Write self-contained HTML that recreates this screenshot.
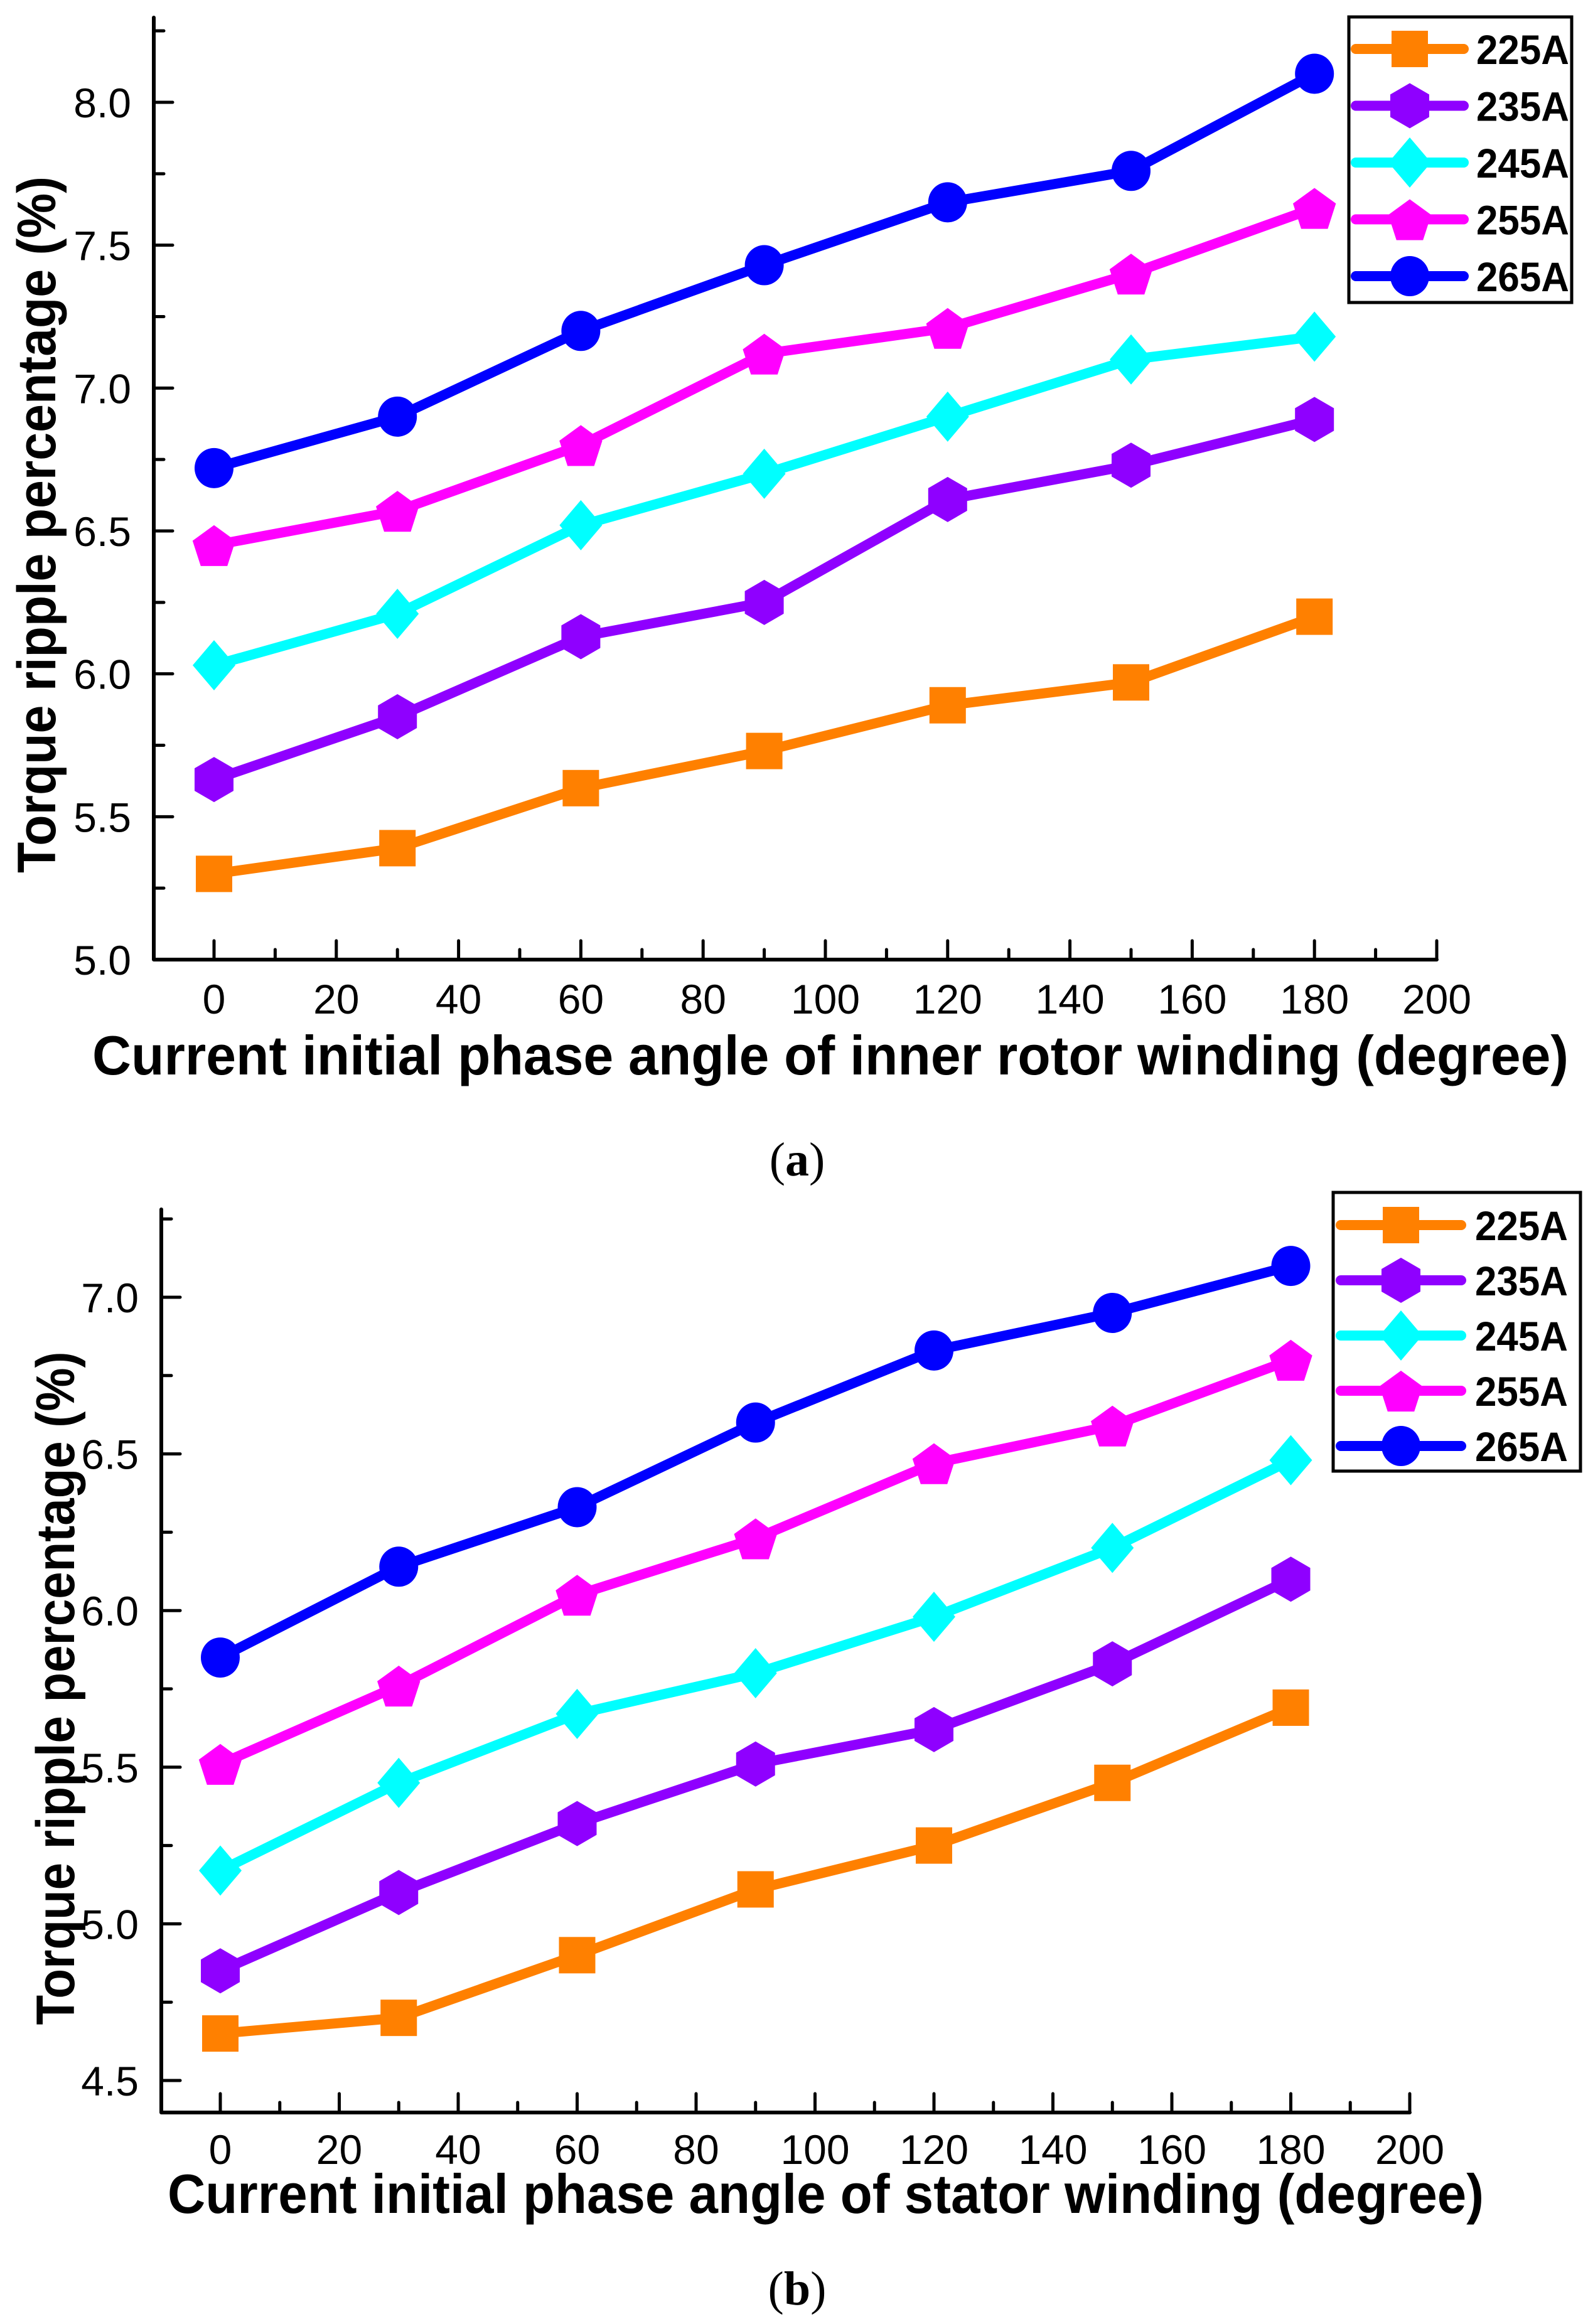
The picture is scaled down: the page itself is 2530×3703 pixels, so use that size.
<!DOCTYPE html>
<html><head><meta charset="utf-8"><style>
html,body{margin:0;padding:0;background:#fff;}
svg{display:block;}
text{font-family:"Liberation Sans",Arial,sans-serif;}
</style></head><body>
<svg id="fig" width="2530" height="3703" viewBox="0 0 2530 3703" xmlns="http://www.w3.org/2000/svg">
<rect width="2530" height="3703" fill="#fff"/>
<g id="chartA"></g>
<g id="chartB"></g>
<text x="1270" y="1873" text-anchor="middle" font-size="76" style="font-family:'Liberation Serif',serif">(<tspan font-weight="bold">a</tspan>)</text>
<text x="1270" y="3672" text-anchor="middle" font-size="76" style="font-family:'Liberation Serif',serif">(<tspan font-weight="bold">b</tspan>)</text>
</svg>
<script>
const angles = [0, 30, 60, 90, 120, 150, 180];
const seriesNames = ["225A", "235A", "245A", "255A", "265A"];
const xTicks = [0, 20, 40, 60, 80, 100, 120, 140, 160, 180, 200];
const yTicksA = [5.0, 5.5, 6.0, 6.5, 7.0, 7.5, 8.0];
const yTicksB = [4.5, 5.0, 5.5, 6.0, 6.5, 7.0];
const a225 = [5.30, 5.39, 5.60, 5.73, 5.89, 5.97, 6.20];
const a235 = [5.63, 5.85, 6.13, 6.25, 6.61, 6.73, 6.89];
const a245 = [6.03, 6.21, 6.52, 6.70, 6.90, 7.10, 7.18];
const a255 = [6.45, 6.57, 6.80, 7.12, 7.21, 7.40, 7.63];
const a265 = [6.72, 6.90, 7.20, 7.43, 7.65, 7.76, 8.10];
const b225 = [4.65, 4.70, 4.90, 5.11, 5.25, 5.45, 5.69];
const b235 = [4.85, 5.10, 5.32, 5.51, 5.62, 5.83, 6.10];
const b245 = [5.17, 5.45, 5.67, 5.80, 5.98, 6.20, 6.48];
const b255 = [5.51, 5.76, 6.05, 6.23, 6.47, 6.59, 6.80];
const b265 = [5.85, 6.14, 6.33, 6.60, 6.83, 6.95, 7.10];

const NS = "http://www.w3.org/2000/svg";
const colors = ["#FF8000", "#8F00FF", "#00FFFF", "#FF00FF", "#0000FF"];
const shapes = ["square", "hexagon", "diamond", "pentagon", "circle"];

function mk(parent, tag, attrs) {
  const e = document.createElementNS(NS, tag);
  for (const k in attrs) e.setAttribute(k, attrs[k]);
  parent.appendChild(e);
  return e;
}

function marker(g, shape, cx, cy, color) {
  let e;
  if (shape === "square") {
    e = mk(g, "rect", {x: cx - 29, y: cy - 29, width: 58, height: 58, fill: color});
  } else if (shape === "circle") {
    e = mk(g, "ellipse", {cx: cx, cy: cy, rx: 31, ry: 32, fill: color});
  } else if (shape === "diamond") {
    e = mk(g, "polygon", {points: `${cx},${cy-40} ${cx+34},${cy} ${cx},${cy+40} ${cx-34},${cy}`, fill: color});
  } else if (shape === "hexagon") {
    e = mk(g, "polygon", {points: `${cx},${cy-36} ${cx+31},${cy-18} ${cx+31},${cy+18} ${cx},${cy+36} ${cx-31},${cy+18} ${cx-31},${cy-18}`, fill: color});
  } else {
    let pts = [];
    for (let i = 0; i < 5; i++) {
      const ang = -Math.PI / 2 + i * 2 * Math.PI / 5;
      pts.push((cx + 36 * Math.cos(ang)).toFixed(1) + "," + (cy + 4 + 36 * Math.sin(ang)).toFixed(1));
    }
    e = mk(g, "polygon", {points: pts.join(" "), fill: color});
  }
  return e;
}

function drawChart(cfg) {
  const g = document.getElementById(cfg.id);
  const X = v => cfg.x0 + (v - 0) * (cfg.x200 - cfg.x0) / 200;
  const Y = v => cfg.yLo - (v - cfg.vLo) * (cfg.yLo - cfg.yHi) / (cfg.vHi - cfg.vLo);
  const axL = cfg.axisLeft, axB = cfg.axisBottom;
  const ax = mk(g, "path", {d: `M${axL},${cfg.axisTop} L${axL},${axB} L${cfg.x200},${axB}`, fill: "none", stroke: "#000", "stroke-width": 6, "stroke-linecap": "round", "stroke-linejoin": "round"});
  
  
  for (let t = 0; t <= 200; t += 10) {
    const major = t % 20 === 0;
    const tk = mk(g, "line", {x1: X(t), x2: X(t), y1: axB, y2: axB - (major ? 30 : 16), stroke: "#000", "stroke-width": 5, "stroke-linecap": "round"});
    
    
  }
  xTicks.forEach(t => {
    const tx = mk(g, "text", {x: X(t), y: cfg.xLabelY, "text-anchor": "middle", "font-size": 66});
    tx.textContent = String(t);
    
    
  });
  for (let v = cfg.vTickLo; v <= cfg.vTickHi + 1e-6; v += 0.25) {
    const major = Math.abs(v * 2 - Math.round(v * 2)) < 1e-6;
    const tk = mk(g, "line", {x1: axL, x2: axL + (major ? 30 : 16), y1: Y(v), y2: Y(v), stroke: "#000", "stroke-width": 5, "stroke-linecap": "round"});
    
    
  }
  cfg.yTicks.forEach(v => {
    const tx = mk(g, "text", {x: axL - 36, y: Y(v) + 24, "text-anchor": "end", "font-size": 66});
    tx.textContent = v.toFixed(1);
    
    
  });
  const xt = mk(g, "text", {x: cfg.xtX, y: cfg.xtY, "font-size": 88, "font-weight": "bold", textLength: cfg.xtLen, lengthAdjust: "spacingAndGlyphs"});
  xt.textContent = cfg.xTitle;
  
  
  const yt = mk(g, "text", {x: 0, y: 0, "font-size": 86, "font-weight": "bold", "text-anchor": "middle", textLength: cfg.ytLen, lengthAdjust: "spacingAndGlyphs", transform: `translate(${cfg.ytX},${cfg.ytY}) rotate(-90)`});
  yt.textContent = "Torque ripple percentage (%)";
  
  
  cfg.series.forEach((vals, si) => {
    const sg = mk(g, "g", {});
    
    
    const pts = vals.map((v, i) => X(angles[i]).toFixed(1) + "," + Y(v).toFixed(1)).join(" ");
    const pl = mk(sg, "polyline", {points: pts, fill: "none", stroke: colors[si], "stroke-width": 16, "stroke-linejoin": "round", "stroke-linecap": "round"});
    
    
    vals.forEach((v, i) => {
      const m = marker(sg, shapes[si], X(angles[i]), Y(v), colors[si]);
      
      
    });
  });
  const L = cfg.legend;
  const lg = mk(g, "g", {});
  
  
  const box = mk(lg, "rect", {x: L.x, y: L.y, width: L.w, height: L.h, fill: "#fff", stroke: "#000", "stroke-width": 5});
  
  
  seriesNames.forEach((nm, si) => {
    const cy = L.row0 + si * L.dy;
    const eg = mk(lg, "g", {});
    
    
    mk(eg, "line", {x1: L.lx1, x2: L.lx2, y1: cy, y2: cy, stroke: colors[si], "stroke-width": 16, "stroke-linecap": "round"});
    marker(eg, shapes[si], (L.lx1 + L.lx2) / 2, cy, colors[si]);
    const tx = mk(eg, "text", {x: L.tx, y: cy + 24, "font-size": 66, "font-weight": "bold", textLength: 148, lengthAdjust: "spacingAndGlyphs"});
    tx.textContent = nm;
  });
}

drawChart({
  id: "chartA", x0: 341, x200: 2289, vLo: 5.0, vHi: 8.0, yLo: 1529, yHi: 163,
  axisLeft: 245, axisBottom: 1529, axisTop: 28, vTickLo: 5.0, vTickHi: 8.25,
  yTicks: yTicksA, xLabelY: 1615,
  xTitle: "Current initial phase angle of inner rotor winding  (degree)", xtX: 147, xtY: 1712, xtLen: 2352,
  ytX: 88, ytY: 836, ytLen: 1110,
  series: [a225, a235, a245, a255, a265],
  legend: {x: 2149, y: 27, w: 355, h: 455, row0: 78, dy: 90.5, lx1: 2160, lx2: 2332, tx: 2352}
});
drawChart({
  id: "chartB", x0: 351, x200: 2246, vLo: 4.5, vHi: 7.0, yLo: 3315, yHi: 2067,
  axisLeft: 257, axisBottom: 3366, axisTop: 1927, vTickLo: 4.5, vTickHi: 7.25,
  yTicks: yTicksB, xLabelY: 3448,
  xTitle: "Current initial phase angle of stator winding  (degree)", xtX: 267, xtY: 3526, xtLen: 2097,
  ytX: 118, ytY: 2690, ytLen: 1073,
  series: [b225, b235, b245, b255, b265],
  legend: {x: 2124, y: 1900, w: 394, h: 444, row0: 1952, dy: 88, lx1: 2136, lx2: 2328, tx: 2350}
});
</script>
</body></html>
